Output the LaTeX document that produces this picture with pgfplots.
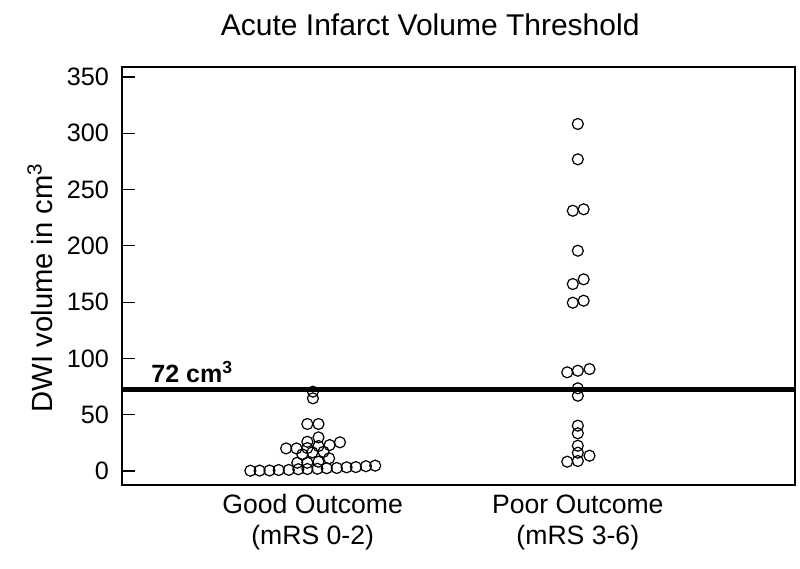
\documentclass[border=0pt]{standalone}
\usepackage{fontspec}
\setmainfont{Liberation Sans}
\usepackage{pgfplots}
\pgfplotsset{compat=1.18}
\begin{document}
\begin{tikzpicture}
\useasboundingbox (-61pt,-42pt) rectangle (339pt,242.5pt);
\begin{axis}[
  at={(0,0)}, anchor=south west,
  scale only axis,
  width=336.5pt, height=209pt,
  xmin=0.281, xmax=2.819,
  ymin=-12.4, ymax=358.9,
  axis line style={line width=1.15pt},
  ytick={0,50,...,350},
  xtick={1,2},
  xticklabels={{\strut Good Outcome\\\strut (mRS 0-2)},{\strut Poor Outcome\\\strut (mRS 3-6)}},
  xticklabel style={align=center, font=\fontsize{13.3}{15.5}\selectfont, yshift=0pt},
  yticklabel style={font=\fontsize{12.6}{14}\selectfont, xshift=-3pt},
  /pgf/number format/assume math mode=true,
  x tick style={draw=none},
  ytick pos=left,
  tick align=inside,
  major tick length=6.5pt,
  y tick style={line width=0.6pt, black},
  ylabel={DWI volume in cm\textsuperscript{3}},
  ylabel style={at={(axis description cs:-0.122,0.4725)}, anchor=center, font=\fontsize{14.6}{16}\selectfont},
  title={Acute Infarct Volume Threshold},
  title style={at={(axis description cs:0.458,1.072)}, anchor=center, font=\fontsize{15}{17}\selectfont},
  clip=false,
]
\addplot[only marks, mark=o, mark size=2.75pt, mark options={line width=0.6pt, black}] coordinates {
(0.765,0.3) (0.800,0.4) (0.837,0.5) (0.872,0.9) (0.910,1.0) (0.946,1.6) (0.980,1.8) (1.018,2.0) (1.053,2.5) (1.091,2.7) (1.128,3.3) (1.163,3.5) (1.201,4.3) (1.236,4.8)
(0.942,7.4) (0.980,7.4) (1.022,8.3)
(1.062,11.3)
(0.961,14.8) (0.999,16.6) (1.041,17.1)
(0.900,20.1) (0.939,20.1) (0.980,20.4) (1.022,22.2) (1.064,23.1) (1.103,25.5)
(0.980,26.0) (1.022,29.9)
(0.980,41.8) (1.022,41.8)
(1.001,64.6) (1.001,70.5)
};
\addplot[only marks, mark=o, mark size=2.75pt, mark options={line width=0.6pt, black}] coordinates {
(2,308.3) (2,276.9) (1.981,231.2) (2.022,232.5) (2,195.7) (1.981,166.1) (2.022,170.3) (1.981,149.5) (2.022,151.3)
(1.960,87.7) (2,89.1) (2.044,90.6) (2,73.5) (2,66.9) (2,40.3) (2,33.5) (2,22.5) (2,16.3) (1.960,8.3) (2,8.9) (2.044,13.6)
};
\addplot[black, line width=2.5pt] coordinates {(0.281,72) (2.819,72)};
\node[anchor=base west, inner sep=0pt, font=\fontsize{12.5}{14}\selectfont\bfseries] at (axis cs:0.3906,79) {72 cm\textsuperscript{3}};
\end{axis}
\end{tikzpicture}
\end{document}
